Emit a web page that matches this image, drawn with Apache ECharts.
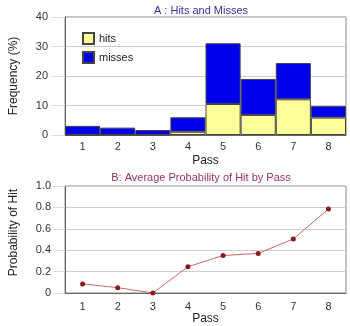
<!DOCTYPE html>
<html><head><meta charset="utf-8">
<script src="https://cdn.jsdelivr.net/npm/echarts@6/dist/echarts.min.js"></script>
<style>html,body{margin:0;padding:0;background:#fff}#c{width:350px;height:326px}</style>
</head><body><div id="c"></div>
<script>
const passes = ['1','2','3','4','5','6','7','8'];
const hits = [0, 0, 0, 1.1, 10.5, 6.8, 12.1, 5.9];
const misses = [3.1, 2.5, 1.7, 4.9, 20.6, 12.2, 12.3, 3.9];
const probHit = [0.085, 0.05, 0.0, 0.245, 0.35, 0.37, 0.505, 0.785];
const freqTicks = [0, 10, 20, 30, 40];

const font = 'Liberation Sans, Arial, sans-serif';
const chart = echarts.init(document.getElementById('c'), null, {renderer:'canvas'});
const axisLbl = {color:'#333', fontSize:11, fontFamily:font};
const nameStyle = {color:'#222', fontSize:12, fontFamily:font};
chart.setOption({
  animation:false,
  backgroundColor:'#fff',
  title:[
    {text:'A : Hits and Misses', left:196, top:0, textAlign:'center',
     textStyle:{color:'#333399', fontSize:11, fontWeight:'normal', fontFamily:font}},
    {text:'B: Average Probability of Hit by Pass', left:196, top:167, textAlign:'center',
     textStyle:{color:'#993366', fontSize:11, fontWeight:'normal', fontFamily:font}}
  ],
  legend:{data:['hits','misses'], orient:'vertical', left:82, top:32, padding:0, itemWidth:11, itemHeight:11,
    itemGap:6, icon:'rect', textStyle:{color:'#222', fontSize:11, fontFamily:font}},
  grid:[
    {left:60, right:4, top:17, height:118, show:true, borderColor:'#888', borderWidth:1, backgroundColor:'transparent'},
    {left:60, right:4, top:186, height:110, show:true, borderColor:'#888', borderWidth:1, backgroundColor:'transparent'}
  ],
  xAxis:[
    {type:'category', gridIndex:0, data:passes, name:'Pass', nameLocation:'middle', nameGap:20,
     nameTextStyle:nameStyle, axisLabel:Object.assign({margin:6}, axisLbl), axisTick:{show:false},
     axisLine:{lineStyle:{color:'#666'}}},
    {type:'category', gridIndex:1, data:passes, name:'Pass', nameLocation:'middle', nameGap:20,
     nameTextStyle:nameStyle, axisLabel:Object.assign({margin:8}, axisLbl), axisTick:{show:false},
     axisLine:{lineStyle:{color:'#666'}}}
  ],
  yAxis:[
    {type:'value', gridIndex:0, min:freqTicks[0], max:freqTicks[freqTicks.length-1], interval:10,
     name:'Frequency (%)', nameLocation:'middle', nameGap:45, nameTextStyle:nameStyle,
     axisLabel:Object.assign({margin:17}, axisLbl),
     axisLine:{show:true, lineStyle:{color:'#666'}},
     axisTick:{show:true, length:14, lineStyle:{color:'#ddd'}},
     splitLine:{lineStyle:{color:'#ccc'}}},
    {type:'value', gridIndex:1, min:0, max:1, interval:0.2,
     name:'Probability of Hit', nameLocation:'middle', nameGap:45,
     nameTextStyle:Object.assign({padding:[0,0,0,14]}, nameStyle),
     axisLabel:Object.assign({margin:14, formatter:v=> v===0?'0':v.toFixed(1)}, axisLbl),
     axisLine:{show:true, lineStyle:{color:'#666'}},
     axisTick:{show:true, length:12, lineStyle:{color:'#ddd'}},
     splitLine:{lineStyle:{color:'#ccc'}}}
  ],
  series:[
    {name:'hits', type:'bar', stack:'a', xAxisIndex:0, yAxisIndex:0, data:hits, barCategoryGap:'0%',
     itemStyle:{color:'#ffff99', borderColor:'#444', borderWidth:1}},
    {name:'misses', type:'bar', stack:'a', xAxisIndex:0, yAxisIndex:0, data:misses, barCategoryGap:'0%',
     itemStyle:{color:'#0000ee', borderColor:'#444', borderWidth:1}},
    {name:'prob', type:'line', xAxisIndex:1, yAxisIndex:1, data:probHit,
     symbol:'circle', symbolSize:5,
     lineStyle:{color:'#cc6666', width:1},
     itemStyle:{color:'#8b1a1a'}}
  ]
});
</script></body></html>
